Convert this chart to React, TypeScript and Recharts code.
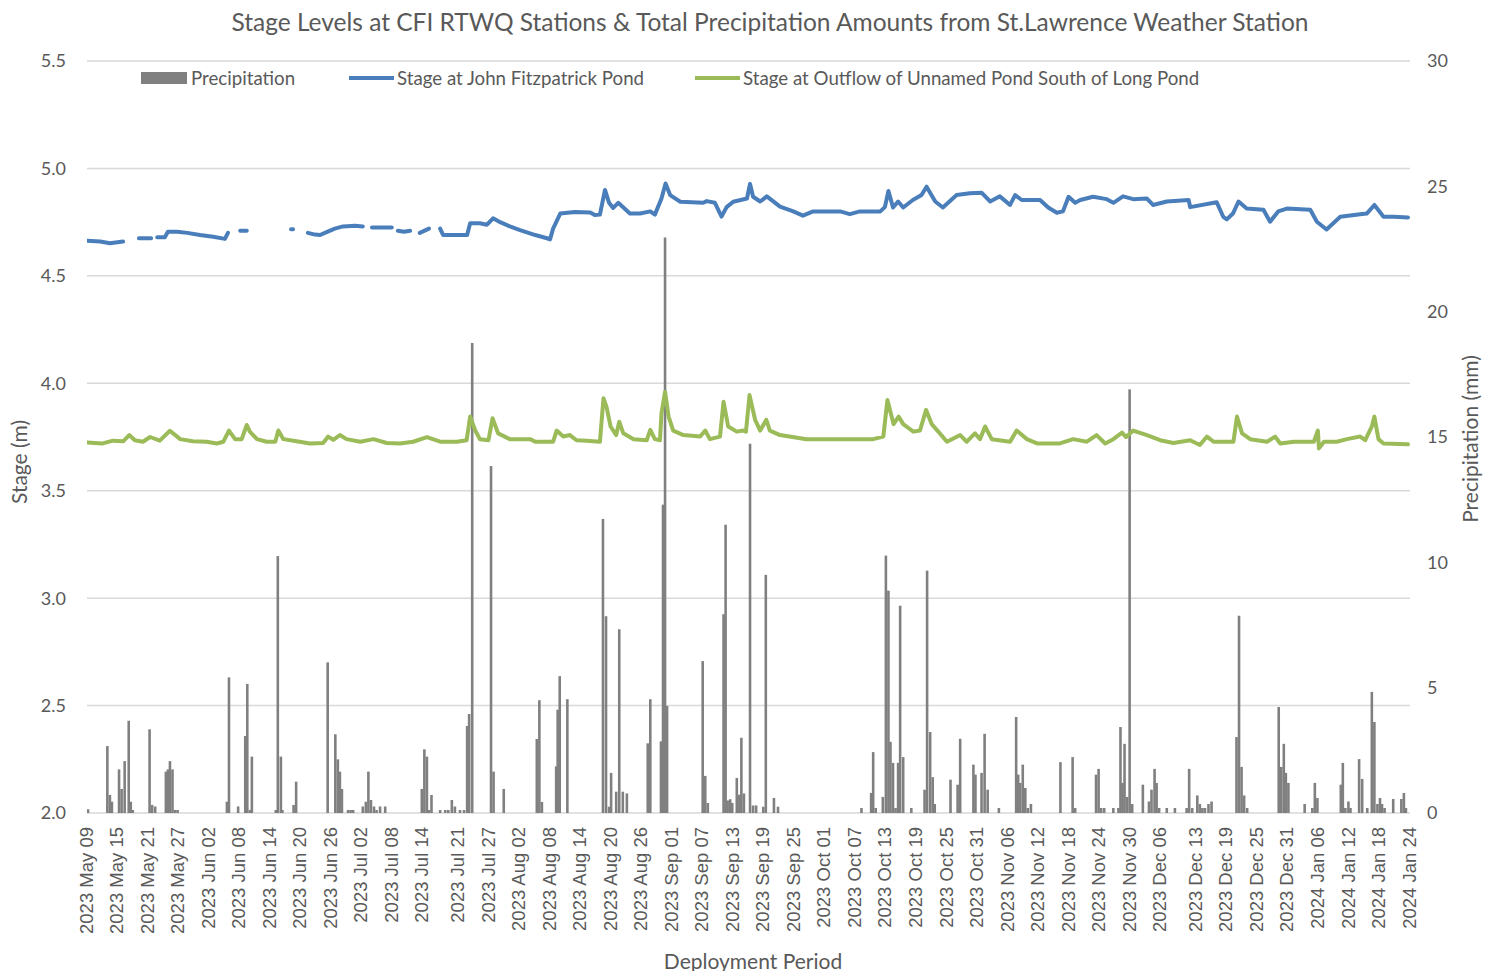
import { ComposedChart, Bar, Line, XAxis, YAxis, CartesianGrid } from 'recharts';

// x values are days since 2023-05-09 00:00
const TICK_DAYS = [0, 6, 12, 18, 24, 30, 36, 42, 48, 54, 60, 66, 73, 79, 85, 91, 97, 103, 109, 115, 121, 127, 133, 139, 145, 151, 157, 163, 169, 175, 181, 187, 193, 199, 205, 211, 218, 224, 230, 236, 242, 248, 254, 260];
const TICK_LABELS = [
  '2023 May 09', '2023 May 15', '2023 May 21', '2023 May 27', '2023 Jun 02', '2023 Jun 08', '2023 Jun 14', '2023 Jun 20',
  '2023 Jun 26', '2023 Jul 02', '2023 Jul 08', '2023 Jul 14', '2023 Jul 21', '2023 Jul 27', '2023 Aug 02', '2023 Aug 08',
  '2023 Aug 14', '2023 Aug 20', '2023 Aug 26', '2023 Sep 01', '2023 Sep 07', '2023 Sep 13', '2023 Sep 19', '2023 Sep 25',
  '2023 Oct 01', '2023 Oct 07', '2023 Oct 13', '2023 Oct 19', '2023 Oct 25', '2023 Oct 31', '2023 Nov 06', '2023 Nov 12',
  '2023 Nov 18', '2023 Nov 24', '2023 Nov 30', '2023 Dec 06', '2023 Dec 13', '2023 Dec 19', '2023 Dec 25', '2023 Dec 31',
  '2024 Jan 06', '2024 Jan 12', '2024 Jan 18', '2024 Jan 24',
];

const STAGE_TICKS = [2.0, 2.5, 3.0, 3.5, 4.0, 4.5, 5.0, 5.5];
const PRECIP_TICKS = [0, 5, 10, 15, 20, 25, 30];

// precipitation (mm): [day, mm]
const PRECIP_MAY_JUL: [number, number][] = [
  [0.2, 0.15], [4.0, 2.67], [4.5, 0.72], [4.9, 0.45], [6.3, 1.74], [6.8, 0.96], [7.4, 2.07], [8.2, 3.68],
  [8.6, 0.45], [9.0, 0.12], [12.3, 3.34], [12.8, 0.32], [13.4, 0.26], [15.5, 1.65], [15.9, 1.74], [16.3, 2.07],
  [16.8, 1.74], [17.3, 0.12], [17.8, 0.12], [27.5, 0.45], [27.9, 5.41], [29.7, 0.26], [31.1, 3.07], [31.5, 5.15],
  [32.0, 0.12], [32.4, 2.25], [37.1, 0.12], [37.5, 10.25], [38.1, 2.25], [38.4, 0.12], [40.6, 0.32], [41.1, 1.25],
  [47.3, 6.01], [48.8, 3.14], [49.3, 2.14], [49.7, 1.65], [50.1, 0.96], [51.3, 0.12], [51.8, 0.12], [52.3, 0.12],
  [54.2, 0.26], [54.8, 0.45], [55.3, 1.65], [55.8, 0.52], [56.4, 0.26], [56.9, 0.12], [57.6, 0.26], [58.6, 0.26],
  [65.8, 0.96], [66.3, 2.54], [66.8, 2.25], [67.2, 0.12], [67.7, 0.72], [69.4, 0.12], [70.4, 0.12], [71.0, 0.12],
  [71.7, 0.52], [72.3, 0.26], [73.3, 0.12], [74.1, 0.12], [74.7, 3.47], [75.1, 3.95], [75.7, 18.75], [79.4, 13.84],
  [79.9, 1.65], [81.9, 0.96],
];
const PRECIP_AUG_SEP: [number, number][] = [
  [88.4, 2.95], [88.9, 4.5], [89.4, 0.44], [92.2, 1.86], [92.5, 4.12], [92.9, 5.46], [94.4, 4.54], [101.4, 11.73],
  [102.0, 7.85], [102.6, 0.25], [103.0, 1.6], [104.0, 0.85], [104.6, 7.33], [105.3, 0.85], [106.1, 0.78], [110.2, 2.78],
  [110.7, 4.54], [112.8, 2.86], [113.2, 12.3], [113.6, 22.96], [114.0, 4.27], [121.0, 6.06], [121.5, 1.48], [122.0, 0.4],
  [125.1, 7.93], [125.5, 11.5], [125.9, 0.5], [126.4, 0.55], [126.8, 0.4], [127.7, 1.4], [128.2, 0.73], [128.6, 3.0],
  [129.1, 0.78], [130.3, 14.73], [130.9, 0.3], [131.5, 0.3], [132.9, 0.25], [133.4, 9.5], [135.0, 0.6], [135.8, 0.25],
];
const PRECIP_OCT_JAN: [number, number][] = [
  [152.2, 0.2], [154.1, 0.8], [154.5, 2.43], [155.0, 0.2], [156.4, 0.64], [157.0, 10.27], [157.5, 8.87], [157.9, 2.84],
  [158.4, 2.0], [158.9, 0.2], [159.4, 2.0], [159.8, 8.27], [160.4, 2.23], [162.0, 0.2], [164.6, 0.93], [165.1, 9.67],
  [165.7, 3.23], [166.2, 1.43], [166.6, 0.36], [169.7, 1.33], [171.1, 1.13], [171.6, 2.96], [174.2, 1.93], [174.6, 1.53],
  [175.8, 1.6], [176.4, 3.16], [177.0, 0.93], [179.2, 0.2], [182.6, 3.83], [183.0, 1.53], [183.4, 1.2], [183.9, 1.93],
  [184.4, 1.0], [184.9, 0.2], [185.5, 0.36], [191.3, 2.03], [193.7, 2.23], [194.2, 0.2], [198.3, 1.53], [198.8, 1.76],
  [199.3, 0.2], [199.9, 0.2], [201.7, 0.2], [202.7, 0.2], [203.1, 3.43], [203.5, 1.2], [203.9, 2.76], [204.4, 0.64],
  [204.9, 16.9], [205.4, 0.36], [207.5, 1.13], [208.7, 0.46], [209.2, 0.93], [209.8, 1.76], [210.2, 1.2], [210.7, 0.2],
  [212.2, 0.2], [213.8, 0.2], [216.1, 0.2], [216.6, 1.76], [217.2, 0.2], [218.2, 0.7], [218.7, 0.36], [219.2, 0.2],
  [219.7, 0.2], [220.4, 0.36], [221.0, 0.46], [225.9, 3.03], [226.4, 7.87], [226.9, 1.84], [227.4, 0.7], [228.0, 0.2],
  [234.2, 4.23], [234.7, 1.84], [235.2, 2.76], [235.6, 1.6], [236.1, 1.2], [239.3, 0.36], [240.8, 0.2], [241.3, 1.2],
  [241.8, 0.6], [246.4, 1.13], [246.8, 2.0], [247.3, 0.2], [247.9, 0.46], [248.3, 0.2], [250.0, 2.15], [250.6, 1.36],
  [251.6, 0.2], [252.5, 4.83], [253.0, 3.63], [253.6, 0.36], [254.1, 0.6], [254.5, 0.36], [255.0, 0.2], [256.7, 0.56],
  [258.3, 0.56], [258.8, 0.8], [259.2, 0.2],
];

// Stage at John Fitzpatrick Pond (m): [day, stage], null = logger gap
const FITZPATRICK_EARLY: [number, number | null][] = [
  [0, 4.663], [2.6, 4.66], [4.5, 4.652], [7.1, 4.66], [8, null],
  [10.2, 4.675], [12.6, 4.675], [13.2, null],
  [13.8, 4.68], [15.3, 4.68], [15.9, 4.705], [17.7, 4.705], [19.7, 4.7], [22.2, 4.69], [24.8, 4.682], [27.1, 4.672], [27.7, 4.7], [28.5, null],
  [30.1, 4.71], [31.4, 4.71], [32, null],
  [40.1, 4.717], [40.5, 4.717], [41.5, null],
  [43.4, 4.7], [44.8, 4.692], [45.8, 4.69], [47.2, 4.705], [48.7, 4.72], [50.3, 4.73], [52.7, 4.733], [54.2, 4.73], [55, null],
  [56, 4.725], [59.9, 4.725], [60.5, null],
  [61.1, 4.71], [62.3, 4.705], [63.5, 4.71], [64.5, null],
  [65.4, 4.7], [67.2, 4.72], [68.3, null],
  [69.4, 4.72], [70, 4.69], [74.7, 4.69], [75.3, 4.745], [77.2, 4.745], [78.6, 4.738], [79.8, 4.768], [81.2, 4.75],
  [83.1, 4.73], [85.1, 4.713], [88.1, 4.69], [90.4, 4.675], [91, 4.67], [91.6, 4.72], [93, 4.79], [95.9, 4.797],
  [98.9, 4.795], [99.8, 4.783], [100.8, 4.785], [101.8, 4.9], [102.6, 4.84], [103.4, 4.816], [104.4, 4.84],
  [106.7, 4.79], [108.7, 4.79], [110.7, 4.8], [111.6, 4.785], [112.9, 4.86], [113.7, 4.93], [114.6, 4.876],
  [116.6, 4.845], [121.1, 4.84], [121.8, 4.848], [123.4, 4.84], [124.7, 4.776], [125.7, 4.82], [127, 4.845],
  [129.7, 4.86], [130.3, 4.928], [130.9, 4.868], [132.3, 4.846], [133.6, 4.87], [136.2, 4.822], [138.8, 4.8],
  [140.7, 4.78], [142.7, 4.8],
];
const FITZPATRICK_LATE: [number, number | null][] = [
  [148, 4.8], [149.9, 4.787], [151.9, 4.8], [155.9, 4.8], [156.8, 4.82], [157.5, 4.895], [158.4, 4.818],
  [159.4, 4.846], [160.4, 4.818], [162.3, 4.853], [164, 4.876], [165, 4.915], [166.7, 4.846], [168.2, 4.818],
  [170.9, 4.876], [173.5, 4.884], [175.8, 4.887], [177.5, 4.846], [179.4, 4.87], [181.4, 4.83], [182.4, 4.876],
  [183.7, 4.853], [187.3, 4.853], [188.9, 4.818], [190.6, 4.794], [191.8, 4.8], [192.9, 4.868], [194.2, 4.84],
  [195.2, 4.853], [197.7, 4.868], [200.4, 4.857], [201.7, 4.84], [203.6, 4.87], [205.6, 4.857], [208.3, 4.86],
  [209.5, 4.83], [212.2, 4.846], [216.5, 4.853], [216.8, 4.82], [222, 4.843], [223.3, 4.775], [224, 4.763],
  [225.2, 4.79], [226.3, 4.846], [227.9, 4.813], [231.2, 4.808], [232.5, 4.752], [234.1, 4.8], [235.8, 4.813],
  [240.4, 4.808], [241.7, 4.752], [243.6, 4.716], [246.3, 4.775], [250.2, 4.787], [251.5, 4.79], [253, 4.83],
  [254.8, 4.775], [256.8, 4.775], [259.6, 4.772],
];

// Stage at Outflow of Unnamed Pond South of Long Pond (m): [day, stage]
const OUTFLOW_EARLY: [number, number][] = [
  [0, 3.725], [3.1, 3.72], [5.1, 3.733], [7.1, 3.73], [8.3, 3.759], [9.4, 3.735], [11, 3.728], [12.4, 3.75],
  [14.3, 3.733], [16.3, 3.779], [18.3, 3.74], [20.8, 3.73], [23.5, 3.728], [25.5, 3.72], [26.8, 3.728], [27.9, 3.78],
  [29.1, 3.74], [30.4, 3.74], [31.4, 3.806], [32, 3.775], [33.4, 3.74], [35.3, 3.728], [37, 3.728], [37.6, 3.78],
  [38.6, 3.74], [41.2, 3.73], [43.8, 3.72], [46.4, 3.722], [47.4, 3.752], [48.4, 3.737], [49.7, 3.759], [51, 3.74],
  [53.7, 3.728], [56.3, 3.74], [58.9, 3.722], [61.5, 3.72], [64.1, 3.728], [66.8, 3.749], [69.4, 3.728], [72.7, 3.728],
  [74.6, 3.735], [75.3, 3.845], [76.3, 3.78], [77.2, 3.74], [78.9, 3.735], [79.7, 3.837], [80.8, 3.767], [83.1, 3.74],
  [87.1, 3.74], [88.1, 3.728], [90.3, 3.728], [91.6, 3.728], [92.3, 3.78], [93.6, 3.752], [94.9, 3.759], [96.2, 3.735],
  [98.2, 3.733], [100.8, 3.728], [101.5, 3.93], [102.1, 3.89], [102.9, 3.799], [104, 3.759], [104.6, 3.821],
  [105.4, 3.767], [107.4, 3.74], [110, 3.735], [110.7, 3.783], [111.6, 3.74], [112.6, 3.735], [112.9, 3.86],
  [113.6, 3.96], [114.3, 3.845], [115.2, 3.78], [117.2, 3.759], [120.5, 3.752], [121.5, 3.78], [122.4, 3.74],
  [124.4, 3.752], [125.1, 3.914], [126, 3.799], [127.7, 3.775], [129, 3.78], [129.5, 3.775], [130.2, 3.945],
  [131.3, 3.83], [132.3, 3.78], [133.5, 3.83], [134.2, 3.78], [136.2, 3.759], [141.4, 3.74],
];
const OUTFLOW_LATE: [number, number][] = [
  [154.5, 3.74], [156.5, 3.752], [157.3, 3.922], [158.5, 3.81], [159.5, 3.845], [160.4, 3.81], [162.4, 3.775],
  [163.7, 3.78], [164.9, 3.876], [166, 3.81], [167.6, 3.767], [169, 3.728], [171.6, 3.759], [172.9, 3.728],
  [174.5, 3.767], [175.5, 3.74], [176.5, 3.799], [177.8, 3.74], [181.4, 3.728], [182.7, 3.78], [184.7, 3.74],
  [186.7, 3.72], [191.2, 3.72], [193.8, 3.74], [196.5, 3.728], [198.4, 3.759], [200.1, 3.72], [201.7, 3.74],
  [203.4, 3.77], [204.2, 3.75], [205.6, 3.78], [208.3, 3.759], [210.9, 3.735], [213.5, 3.722], [216.8, 3.735],
  [218.7, 3.713], [220.1, 3.752], [221.4, 3.728], [225.3, 3.728], [226, 3.845], [227, 3.767], [228.6, 3.74],
  [231.9, 3.728], [233.5, 3.752], [234.5, 3.72], [237.2, 3.728], [241.1, 3.728], [241.9, 3.78], [242.1, 3.697],
  [243.1, 3.728], [245.6, 3.728], [247.6, 3.74], [250.2, 3.752], [251.2, 3.735], [252.5, 3.799], [253, 3.845],
  [253.8, 3.74], [254.8, 3.72], [259.6, 3.716],
];

const precipRows = [...PRECIP_MAY_JUL, ...PRECIP_AUG_SEP, ...PRECIP_OCT_JAN].map(([day, mm]) => ({ day, mm }));
const fitzRows = [...FITZPATRICK_EARLY, ...FITZPATRICK_LATE].map(([day, stage]) => ({ day, stage }));
const outflowRows = [...OUTFLOW_EARLY, ...OUTFLOW_LATE].map(([day, stage]) => ({ day, stage }));

const TEXT = '#595959';
const FONT = 'Lato, "Open Sans", sans-serif';
const GRAY = '#808080';
const BLUE = '#4a7ebb';
const GREEN = '#9bbb59';

function DateTick({ x, y, payload }: any) {
  const label = TICK_LABELS[TICK_DAYS.indexOf(payload.value)];
  return (
    <g transform={`translate(${x},${y})`}>
      <text
        transform="rotate(-90)"
        x={-12}
        y={0}
        dy="0.3em"
        textAnchor="end"
        fill={TEXT}
        fontSize={18.5}
        fontFamily='"Liberation Sans", Arial, sans-serif'
      >
        {label}
      </text>
    </g>
  );
}

// Excel draws each precipitation bar ~2.6px wide, centred on its timestamp
function PrecipBar(props: any) {
  const { x, y, width, height } = props;
  if (!height || height <= 0) return null;
  return <rect x={x + width / 2 - 1.3} y={y} width={2.6} height={height} fill={GRAY} />;
}

const abs = (extra: React.CSSProperties): React.CSSProperties => ({
  position: 'absolute',
  color: TEXT,
  fontFamily: FONT,
  whiteSpace: 'nowrap',
  lineHeight: 1,
  ...extra,
});

export default function App() {
  return (
    <div style={{ position: 'absolute', left: 0, top: 0, width: 1493, height: 971, background: '#fff' }}>
      <ComposedChart
        width={1493}
        height={971}
        data={precipRows}
        margin={{ top: 61, right: 23, left: 27, bottom: 28 }}
      >
        <CartesianGrid yAxisId="left" vertical={false} stroke="#d9d9d9" strokeWidth={1.5} />
        <XAxis
          dataKey="day"
          type="number"
          domain={[0, 260]}
          allowDataOverflow
          ticks={TICK_DAYS}
          interval={0}
          height={130}
          axisLine={false}
          tickLine={false}
          tickSize={0}
          tick={<DateTick />}
        />
        <YAxis
          yAxisId="left"
          orientation="left"
          width={60}
          domain={[2, 5.5]}
          ticks={STAGE_TICKS}
          interval={0}
          axisLine={false}
          tickLine={false}
          tickSize={0}
          tickMargin={21}
          tickFormatter={(v: number) => v.toFixed(1)}
          tick={{ fill: TEXT, fontSize: 18, fontFamily: FONT }}
        />
        <YAxis
          yAxisId="right"
          orientation="right"
          width={60}
          domain={[0, 30]}
          ticks={PRECIP_TICKS}
          interval={0}
          axisLine={false}
          tickLine={false}
          tickSize={0}
          tickMargin={17}
          tick={{ fill: TEXT, fontSize: 18, fontFamily: FONT }}
        />
        <Bar yAxisId="right" dataKey="mm" fill={GRAY} shape={<PrecipBar />} isAnimationActive={false} />
        <Line
          yAxisId="left"
          data={fitzRows}
          dataKey="stage"
          stroke={BLUE}
          strokeWidth={4}
          dot={false}
          strokeLinejoin="round"
          strokeLinecap="round"
          isAnimationActive={false}
        />
        <Line
          yAxisId="left"
          data={outflowRows}
          dataKey="stage"
          stroke={GREEN}
          strokeWidth={4}
          dot={false}
          strokeLinejoin="round"
          strokeLinecap="round"
          isAnimationActive={false}
        />
      </ComposedChart>

      <div style={abs({ left: 770, top: 22, fontSize: 24.5, transform: 'translate(-50%, -50%)' })}>
        Stage Levels at CFI RTWQ Stations &amp; Total Precipitation Amounts from St.Lawrence Weather Station
      </div>

      <div style={abs({ left: 141, top: 72, width: 46, height: 12, background: GRAY })} />
      <div style={abs({ left: 191, top: 78, fontSize: 18.7, transform: 'translateY(-50%)' })}>Precipitation</div>
      <div style={abs({ left: 349, top: 76, width: 45, height: 4, background: BLUE })} />
      <div style={abs({ left: 397, top: 78, fontSize: 18.7, transform: 'translateY(-50%)' })}>Stage at John Fitzpatrick Pond</div>
      <div style={abs({ left: 695, top: 76, width: 45, height: 4, background: GREEN })} />
      <div style={abs({ left: 743, top: 78, fontSize: 18.7, transform: 'translateY(-50%)' })}>
        Stage at Outflow of Unnamed Pond South of Long Pond
      </div>

      <div style={abs({ left: 18, top: 462, fontSize: 21, transform: 'translate(-50%, -50%) rotate(-90deg)' })}>Stage (m)</div>
      <div style={abs({ left: 1469, top: 439, fontSize: 21, transform: 'translate(-50%, -50%) rotate(-90deg)' })}>
        Precipitation (mm)
      </div>
      <div style={abs({ left: 753, top: 960, fontSize: 21, transform: 'translate(-50%, -50%)' })}>Deployment Period</div>
    </div>
  );
}
